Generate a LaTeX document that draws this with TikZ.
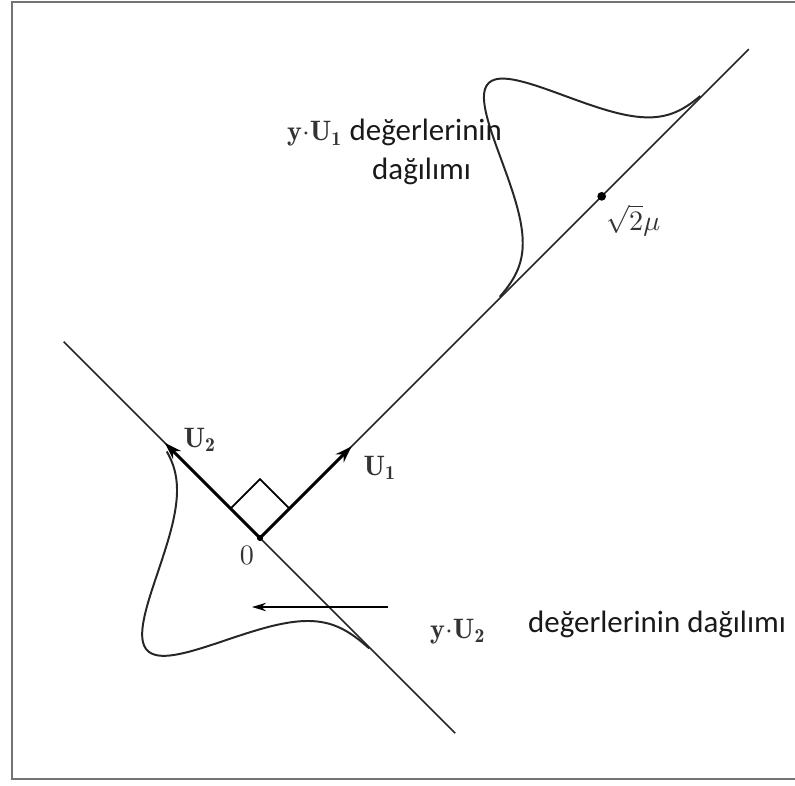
\documentclass[tikz,border=0pt]{standalone}
\usepackage{amsmath,amssymb}
\usepackage{fontspec}
\newfontfamily\trfont{Carlito}
\usetikzlibrary{
  arrows.meta,
  calc,
  positioning
}
\tikzset{
  >=stealth,
  line cap=round,
  line join=round,
  every picture/.style={line width=0.6pt},
  axisline/.style={black!85, line width=0.6pt},
  vecarrow/.style={-{Stealth[length=6pt,width=4pt]}, line width=1.1pt},
  thinarrow/.style={-{Stealth[length=5pt,width=3pt]}, line width=0.6pt},
  density/.style={black!85, line width=0.7pt, smooth},
  point/.style={circle, fill, inner sep=1.2pt},
  frameline/.style={black!55, line width=1pt},
  trtext/.style={font=\trfont\fontsize{11}{13}\selectfont, text=black!90},
  mathlabel/.style={text=black!80}
}
\begin{document}
\begin{tikzpicture}
  \useasboundingbox (0,0) rectangle (9.9375,9.8125);
  \draw[frameline] (9.9375,9.7875) -- (0.15,9.7875) -- (0.15,0.075) -- (9.9375,0.075);

  \coordinate (O) at (3.25,3.0875);
  \begin{scope}[shift={(O)}, rotate=45]
    \coordinate (u1end) at (8.64,0);
    \coordinate (u2top) at (0,3.47);
    \coordinate (u2bot) at (0,-3.45);
    \coordinate (U1tip) at (1.62,0);
    \coordinate (U2tip) at (0,1.68);
    \coordinate (mu) at (6.04,0);

    % axes
    \draw[axisline] (O) -- (u1end);
    \draw[axisline] (u2bot) -- (u2top);
    % right angle
    \draw (0.52,0) -- (0.52,0.52) -- (0,0.52);
    % vectors
    \draw[vecarrow] (O) -- (U1tip);
    \draw[vecarrow] (O) -- (U2tip);
    % distributions
    \draw[density] plot[domain=4.25:7.8, samples=80]
      (\x,{2.0*exp(-((\x-6.04)*(\x-6.04))/0.6328)});
    \draw[density] plot[domain=-1.94:1.59, samples=80]
      ({-1.99*exp(-(\x*\x)/0.72)},\x);
  \end{scope}

  \node[point, inner sep=1.1pt] (mupt) at (mu) {};
  \fill (O) circle (1.1pt);

  \node[mathlabel] (mulbl) at (7.9125,7.0625) {$\sqrt{2}\mu$};
  \node[mathlabel] (U2lbl) at (2.5,4.3125) {$\mathbf{U_2}$};
  \node[mathlabel] (U1lbl) at (4.75,3.9625) {$\mathbf{U_1}$};
  \node[mathlabel] (zero) at (3.0875,2.875) {$0$};

  \node[trtext, anchor=base west] (lblA) at (3.4625,8.05)
    {{\fontsize{10}{12}\selectfont\color{black!80}$\mathbf{y}{\cdot}\mathbf{U_1}$} değerlerinin};
  \node[trtext, anchor=base west] (lblB) at (4.525,7.5625) {dağılımı};

  \coordinate (harrS) at (4.85,2.225);
  \coordinate (harrE) at (3.15,2.225);
  \draw[thinarrow] (harrS) -- (harrE);

  \node[mathlabel, anchor=base west] (yU2) at (5.25,1.8375) {$\mathbf{y}{\cdot}\mathbf{U_2}$};
  \node[trtext, anchor=base west] (lblC) at (6.475,1.9125) {değerlerinin dağılımı};
\end{tikzpicture}
\end{document}
